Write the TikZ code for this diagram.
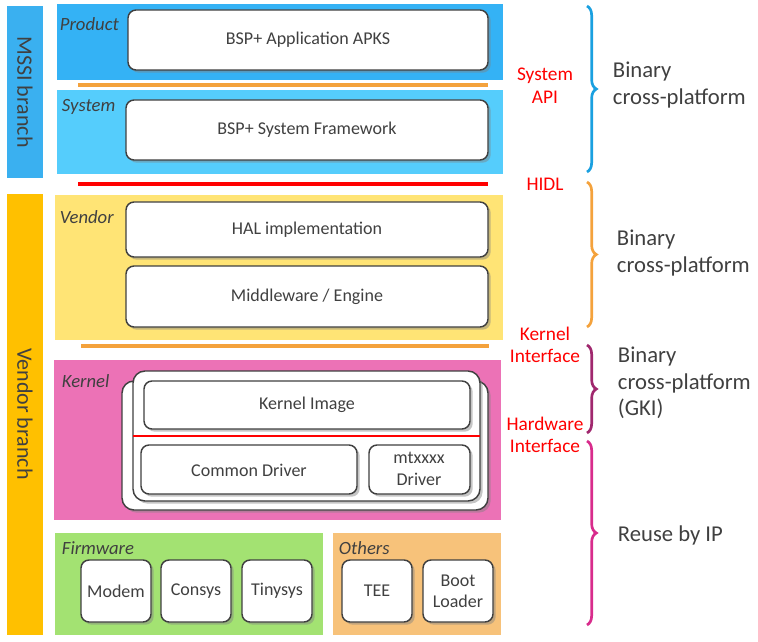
\documentclass[tikz,border=0pt]{standalone}
\usepackage{fontspec}
\setmainfont{Carlito}
\usetikzlibrary{shadows,decorations.pathreplacing}
\tikzset{every picture/.style={line width=0.75pt}}
\definecolor{mssiblue}{RGB}{58,176,240}
\definecolor{prodblue}{RGB}{52,178,245}
\definecolor{sysblue}{RGB}{85,205,252}
\definecolor{vendorbar}{RGB}{255,192,0}
\definecolor{vendorfill}{RGB}{255,228,117}
\definecolor{kernelfill}{RGB}{236,114,182}
\definecolor{fwfill}{RGB}{163,226,114}
\definecolor{othersfill}{RGB}{247,194,122}
\definecolor{lineorange}{RGB}{244,162,60}
\definecolor{bracepurple}{RGB}{160,40,110}
\definecolor{bracepink}{RGB}{216,44,140}
\definecolor{braceblue}{RGB}{26,160,224}
\definecolor{textgray}{RGB}{64,64,64}
\tikzset{
  box/.style={draw=textgray, fill=white, line width=1.1pt, rounded corners=6pt,
    drop shadow={shadow xshift=2pt, shadow yshift=-2pt, opacity=0.45}},
  boxtext/.style={text=textgray, font=\fontsize{13.5}{16}\selectfont, align=center},
  layertext/.style={text=textgray, font=\fontsize{14}{17}\selectfont\itshape, anchor=west},
  ifacetext/.style={text=red, font=\fontsize{14.5}{17}\selectfont, align=center},
  sidetext/.style={text=textgray, font=\fontsize{17}{20}\selectfont, align=left, anchor=west},
  bracket/.style={decorate, decoration={brace, amplitude=7pt}, line width=2pt},
  divider/.style={line width=2.3pt}
}
\begin{document}
\begin{tikzpicture}[x=0.75pt,y=0.75pt,yscale=-1,xscale=1]
\useasboundingbox (0,0) rectangle (758,642);
% branch bars
\fill [mssiblue] (7,6) rectangle (43,178);
\fill [vendorbar] (7,194) rectangle (43,635);
\draw (25,92) node [rotate=-90, text=textgray, font=\fontsize{16.5}{20}\selectfont] (mssi) {MSSI branch};
\draw (25,414) node [rotate=-90, text=textgray, font=\fontsize{16.5}{20}\selectfont] (vendorbranch) {Vendor branch};

% Product / System
\fill [prodblue] (57,4) rectangle (503,80);
\draw [box] (128,10) rectangle (488,70);
\draw [divider, lineorange] (78,85) -- (488,85);
\fill [sysblue] (57,90) rectangle (503,174);
\draw [box] (126,100) rectangle (488,160);
\draw [divider, red] (78,184) -- (488,184);

% Vendor
\fill [vendorfill] (55,195) rectangle (503,340);
\draw [box] (126,202) rectangle (488,257);
\draw [box] (126,266) rectangle (488,327);
\draw [divider, lineorange] (81,346) -- (489,346);

% Kernel
\fill [kernelfill] (54,360) rectangle (501,520);
\draw [box, rounded corners=9pt] (122,381) rectangle (488,510);
\draw [box, rounded corners=9pt] (133,371) rectangle (480,501);
\draw [box, drop shadow={opacity=0}] (144,381) rectangle (470,429);
\draw [divider, red, line width=2pt] (133,436) -- (480,436);
\draw [box, drop shadow={opacity=0}] (141,445) rectangle (357,494);
\draw [box, drop shadow={opacity=0}] (369,445) rectangle (470,494);

% Firmware / Others
\fill [fwfill] (55,533) rectangle (323,635);
\fill [othersfill] (333,533) rectangle (501,635);
\foreach \x in {81,161,242,342,423} {
  \draw [box] (\x,560) rectangle (\x+70,622);
}

% Text Node
\draw (55,24) node [layertext] (product) {Product};
\draw (57,107) node [layertext] (system) {System};
\draw (55,217) node [layertext] (vendor) {Vendor};
\draw (57,381) node [layertext] (kernel) {Kernel};
\draw (57,548) node [layertext] (firmware) {Firmware};
\draw (334,548) node [layertext] (others) {Others};
% Text Node
\draw (308,40) node [boxtext] (apks) {BSP+ Application APKS};
\draw (307,130) node [boxtext] (framework) {BSP+ System Framework};
\draw (307,230) node [boxtext] (hal) {HAL implementation};
\draw (307,297) node [boxtext] (middleware) {Middleware / Engine};
\draw (307,405) node [boxtext] (kimage) {Kernel Image};
\draw (249,470) node [boxtext] (common) {Common Driver};
\draw (419,469) node [boxtext] (mtdriver) {mtxxxx\\Driver};
\draw (116,591) node [boxtext] (modem) {Modem};
\draw (196,591) node [boxtext] (consys) {Consys};
\draw (277,591) node [boxtext] (tinysys) {Tinysys};
\draw (377,591) node [boxtext] (tee) {TEE};
\draw (458,591) node [boxtext] (boot) {Boot\\Loader};
% Text Node
\draw (545,86) node [ifacetext] (sysapi) {System\\API};
\draw (545,184) node [ifacetext] (hidl) {HIDL};
\draw (545,345) node [ifacetext] (kiface) {Kernel\\Interface};
\draw (545,435) node [ifacetext] (hwiface) {Hardware\\Interface};

% braces
\draw [bracket, braceblue] (587,6) -- (587,172);
\draw [bracket, lineorange] (587,182) -- (587,327);
\draw [bracket, bracepurple] (587,345) -- (587,433);
\draw [bracket, bracepink] (587,441) -- (587,625);
% Text Node
\draw (608,85) node [sidetext] (bin1) {Binary\\cross-platform};
\draw (612,253) node [sidetext] (bin2) {Binary\\cross-platform};
\draw (613,383) node [sidetext] (bin3) {Binary\\cross-platform\\(GKI)};
\draw (613,535) node [sidetext] (reuse) {Reuse by IP};
\end{tikzpicture}
\end{document}
